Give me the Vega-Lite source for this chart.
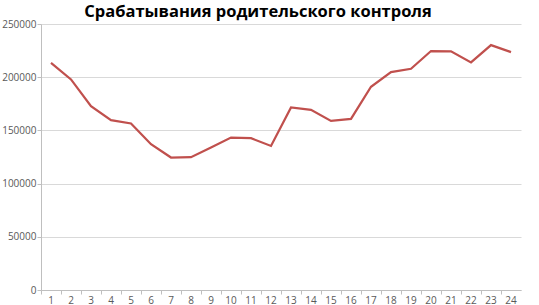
{
  "$schema": "https://vega.github.io/schema/vega-lite/v6.json",
  "autosize": "none",
  "width": 480,
  "height": 266,
  "padding": {"left": 41, "top": 24, "right": 18, "bottom": 15},
  "background": "white",
  "title": {
    "text": "Срабатывания родительского контроля",
    "font": "Open Sans",
    "fontSize": 16.5,
    "fontWeight": "bold",
    "color": "#000000",
    "anchor": "middle",
    "frame": "group",
    "dx": -23,
    "dy": 5,
    "offset": 4
  },
  "data": {
    "values": [
      {"hour": 1, "count": 213500},
      {"hour": 2, "count": 197900},
      {"hour": 3, "count": 172800},
      {"hour": 4, "count": 159600},
      {"hour": 5, "count": 156500},
      {"hour": 6, "count": 137000},
      {"hour": 7, "count": 124500},
      {"hour": 8, "count": 124800},
      {"hour": 9, "count": 133900},
      {"hour": 10, "count": 143300},
      {"hour": 11, "count": 142700},
      {"hour": 12, "count": 135400},
      {"hour": 13, "count": 171600},
      {"hour": 14, "count": 169300},
      {"hour": 15, "count": 158900},
      {"hour": 16, "count": 160800},
      {"hour": 17, "count": 191000},
      {"hour": 18, "count": 204800},
      {"hour": 19, "count": 207900},
      {"hour": 20, "count": 224600},
      {"hour": 21, "count": 224300},
      {"hour": 22, "count": 213900},
      {"hour": 23, "count": 230200},
      {"hour": 24, "count": 223600}
    ]
  },
  "mark": {"type": "line", "color": "#C0504D", "strokeWidth": 2.25},
  "encoding": {
    "x": {
      "field": "hour",
      "type": "ordinal",
      "sort": null,
      "scale": {"type": "band", "paddingInner": 0, "paddingOuter": 0},
      "axis": {
        "title": null,
        "labelAngle": 0,
        "bandPosition": 0,
        "labelAlign": "center",
        "labelFont": "Open Sans",
        "labelFontSize": 10,
        "labelColor": "#595959",
        "labelPadding": 1,
        "tickColor": "#BFBFBF",
        "tickSize": 4,
        "domainColor": "#BFBFBF",
        "grid": false
      }
    },
    "y": {
      "field": "count",
      "type": "quantitative",
      "scale": {"domain": [0, 250000], "nice": false},
      "axis": {
        "title": null,
        "values": [0, 50000, 100000, 150000, 200000, 250000],
        "format": "d",
        "labelFont": "Open Sans",
        "labelFontSize": 10,
        "labelColor": "#595959",
        "labelPadding": 1,
        "tickColor": "#BFBFBF",
        "tickSize": 4,
        "domainColor": "#BFBFBF",
        "gridColor": "#D9D9D9",
        "gridWidth": 1
      }
    }
  },
  "config": {"view": {"stroke": null}}
}
